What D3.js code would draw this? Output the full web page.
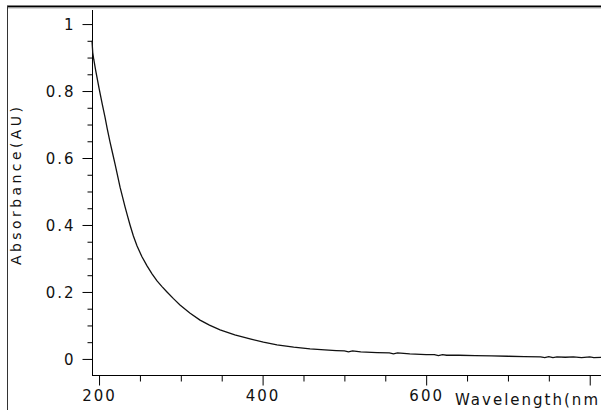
<!DOCTYPE html>
<html>
<head>
<meta charset="utf-8">
<script src="https://cdn.jsdelivr.net/npm/d3@7"></script>
<style>
  html, body { margin: 0; padding: 0; background: #fff; }
  svg { display: block; }
  text { font-family: "DejaVu Sans", Verdana, sans-serif; fill: #111; }
</style>
</head>
<body>
<script>
// ---- data ----
const wavelength = [191.4,192.3,193.5,196,200,204,207.3,210,213.4,216.5,219.6,222.6,225.7,228.8,231.8,234.8,237.9,242,246.5,252.5,258.7,264.8,270.9,277,283.1,291,299,311,323.5,335,348,366,384.6,401,417.6,438,458,476,490,500,505,510,520,540,555,560,565,580,600,610,615,620,625,640,660,680,700,720,740,745,750,755,760,770,780,790,800,805,815];
const absorbance = [0.950,0.915,0.895,0.860,0.809,0.760,0.722,0.688,0.648,0.615,0.582,0.548,0.513,0.483,0.454,0.427,0.400,0.367,0.337,0.305,0.278,0.254,0.233,0.216,0.200,0.180,0.161,0.137,0.116,0.101,0.087,0.072,0.060,0.050,0.042,0.035,0.030,0.027,0.025,0.024,0.021,0.024,0.021,0.019,0.018,0.015,0.018,0.015,0.013,0.013,0.010,0.013,0.011,0.011,0.010,0.009,0.008,0.007,0.006,0.004,0.007,0.004,0.006,0.005,0.006,0.004,0.006,0.004,0.005];
const yMajorTicks = [0, 0.2, 0.4, 0.6, 0.8, 1];
const yTickLabels = ["0", "0.2", "0.4", "0.6", "0.8", "1"];
const xMajorTicks = [200, 400, 600, 800];
const xTickLabels = ["200", "400", "600", ""];
const xTitle = "Wavelength(nm";
const yTitle = "Absorbance(AU)";

// ---- layout ----
const W = 601, H = 410;
const svg = d3.select("body").append("svg").attr("width", W).attr("height", H);

const x = d3.scaleLinear().domain([191.4, 815]).range([92, 602]);
const y = d3.scaleLinear().domain([-0.048, 1.042]).range([375, 10]);

// frame (window border)
svg.append("rect").attr("x", 7).attr("y", 5.5).attr("width", W - 7).attr("height", 2).attr("fill", "#000");
svg.append("rect").attr("x", 8).attr("y", 7.5).attr("width", W - 8).attr("height", 1).attr("fill", "#b0b0b0");
svg.append("line").attr("x1", 7.5).attr("x2", 7.5).attr("y1", 6).attr("y2", H)
  .attr("stroke", "#333").attr("stroke-width", 1);

// minor ticks
const yMinor = d3.range(0, 1.0001, 0.05).map(v => +v.toFixed(2)).filter(v => !yMajorTicks.includes(v));
const xMinor = d3.range(200, 815, 50).filter(v => !xMajorTicks.includes(v));

const gy = svg.append("g").attr("transform", "translate(92.5,0)");
gy.call(d3.axisLeft(y).tickValues(yMinor).tickSize(5).tickFormat(""));
gy.call(g => g.select(".domain").remove());
const gyM = svg.append("g").attr("transform", "translate(92.5,0)");
gyM.call(d3.axisLeft(y).tickValues(yMajorTicks).tickSize(10)
  .tickFormat((d, i) => yTickLabels[i]).tickPadding(7));
gyM.select(".domain").remove();
gyM.selectAll("text").attr("font-size", 15).attr("letter-spacing", "2px")
  .attr("dy", "0.38em").attr("font-family", "DejaVu Sans").attr("fill", "#111");

const gx = svg.append("g").attr("transform", "translate(0,375.5)");
gx.call(d3.axisBottom(x).tickValues(xMinor).tickSize(6).tickFormat(""));
gx.select(".domain").remove();
const gxM = svg.append("g").attr("transform", "translate(0,375.5)");
gxM.call(d3.axisBottom(x).tickValues(xMajorTicks).tickSize(10)
  .tickFormat((d, i) => xTickLabels[i]).tickPadding(5));
gxM.select(".domain").remove();
gxM.selectAll("text").attr("font-size", 15).attr("letter-spacing", "2px")
  .attr("font-family", "DejaVu Sans").attr("fill", "#111");

// axis lines
svg.append("line").attr("x1", 92.5).attr("x2", 92.5).attr("y1", y.range()[1]).attr("y2", 375.5)
  .attr("stroke", "#000").attr("stroke-width", 1);
svg.append("line").attr("x1", 92).attr("x2", W).attr("y1", 375.5).attr("y2", 375.5)
  .attr("stroke", "#000").attr("stroke-width", 1);

// curve
const line = d3.line().x((d, i) => x(wavelength[i])).y(d => y(d));
svg.append("path").datum(absorbance).attr("d", line)
  .attr("fill", "none").attr("stroke", "#111").attr("stroke-width", 1.3);

// titles
svg.append("text").attr("x", 455).attr("y", 405)
  .attr("font-size", 15).attr("textLength", 143).attr("lengthAdjust", "spacing")
  .text(xTitle);
svg.append("text").attr("transform", "translate(21,265) rotate(-90)")
  .attr("font-size", 14).attr("textLength", 158).attr("lengthAdjust", "spacing")
  .text(yTitle);
</script>
</body>
</html>
